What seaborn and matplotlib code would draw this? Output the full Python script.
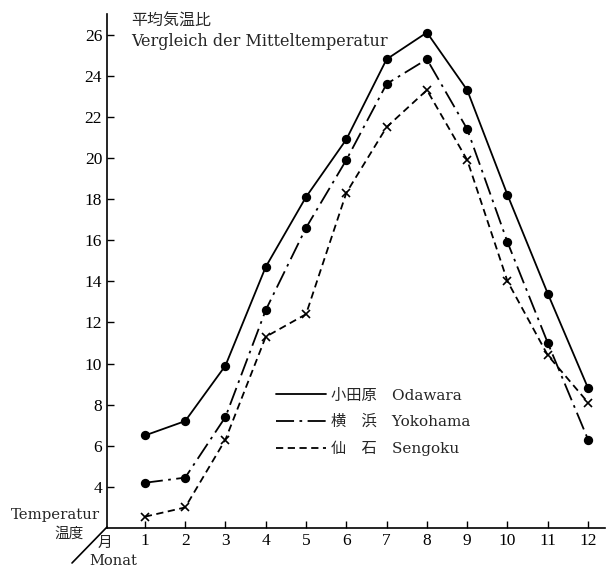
import matplotlib
matplotlib.use('Agg')
import matplotlib.pyplot as plt
from matplotlib.lines import Line2D
import seaborn as sns
import pandas as pd

months = [1, 2, 3, 4, 5, 6, 7, 8, 9, 10, 11, 12]
odawara = [6.5, 7.2, 9.9, 14.7, 18.1, 20.9, 24.8, 26.1, 23.3, 18.2, 13.4, 8.8]
yokohama = [4.2, 4.45, 7.4, 12.6, 16.6, 19.9, 23.6, 24.8, 21.4, 15.9, 11.0, 6.3]
sengoku = [2.55, 3.0, 6.3, 11.3, 12.4, 18.3, 21.5, 23.3, 19.9, 14.0, 10.4, 8.1]
stations = ["Odawara", "Yokohama", "Sengoku"]
legend_labels = ["小田原　Odawara", "横　浜　Yokohama", "仙　石　Sengoku"]
y_ticks = [4, 6, 8, 10, 12, 14, 16, 18, 20, 22, 24, 26]

df = pd.DataFrame({
    "month": months * 3,
    "temp": odawara + yokohama + sengoku,
    "station": [s for s in stations for _ in months],
})

sns.set_style("ticks")
fonts = ["Liberation Serif", "Noto Sans CJK JP", "DejaVu Sans"]
wide = ["DejaVu Serif", "Noto Sans CJK JP", "DejaVu Sans"]
cjk = ["Noto Sans CJK JP", "DejaVu Sans"]
plt.rcParams["font.family"] = fonts

fig = plt.figure(figsize=(6.08, 5.68), dpi=100)
ax = fig.add_axes([107/608, 40/568, 498/608, 514/568])

dash_map = {"Odawara": "-", "Yokohama": (0, (10, 3, 1.5, 3)), "Sengoku": (0, (4, 2.5))}
marker_map = {"Odawara": "o", "Yokohama": "o", "Sengoku": "x"}
for st in stations:
    sub = df[df["station"] == st]
    sns.lineplot(data=sub, x="month", y="temp", color="black", linestyle=dash_map[st],
                 marker=marker_map[st], markersize=5.5 if st != "Sengoku" else 6,
                 markeredgecolor="black", markerfacecolor="black",
                 markeredgewidth=1.2, linewidth=1.3, legend=False, ax=ax)

ax.set_xlim(0.06, 12.42)
ax.set_ylim(2, 27)
ax.set_xticks(months)
ax.set_yticks(y_ticks)
ax.tick_params(direction="in", length=5, width=1, labelsize=12.5, colors="black")
ax.set_xlabel("")
ax.set_ylabel("")
sns.despine(ax=ax)
for s in ["left", "bottom"]:
    ax.spines[s].set_linewidth(1.2)
    ax.spines[s].set_color("black")

handles = [Line2D([], [], color="black", lw=1.3, linestyle=dash_map[s]) for s in stations]
ax.legend(handles, legend_labels, loc="upper left",
          bbox_to_anchor=(155/498, (554-401)/514), frameon=False,
          handlelength=3.3, handletextpad=0.3, labelspacing=0.78,
          prop={"family": wide, "size": 11})

fig.text(131/608, 1 - 20/568, "平均気温比", ha="left", va="center", fontsize=11.5,
         family=cjk)
fig.text(131/608, 1 - 41/568, "Vergleich der Mitteltemperatur", ha="left",
         va="center", fontsize=11.5, family=wide)
fig.text(100/608, 1 - 515/568, "Temperatur", ha="right", va="center", fontsize=10.7,
         family=wide)
fig.text(69/608, 1 - 534/568, "温度", ha="center", va="center", fontsize=10.5,
         family=cjk)
fig.text(105/608, 1 - 543/568, "月", ha="center", va="center", fontsize=10.5,
         family=cjk)
fig.text(113/608, 1 - 561/568, "Monat", ha="center", va="center", fontsize=10.5,
         family=wide)
fig.add_artist(Line2D([72/608, 107/608], [5/568, 41/568], color="black", lw=1.2,
                      transform=fig.transFigure))

fig.savefig("out.png", dpi=100)
